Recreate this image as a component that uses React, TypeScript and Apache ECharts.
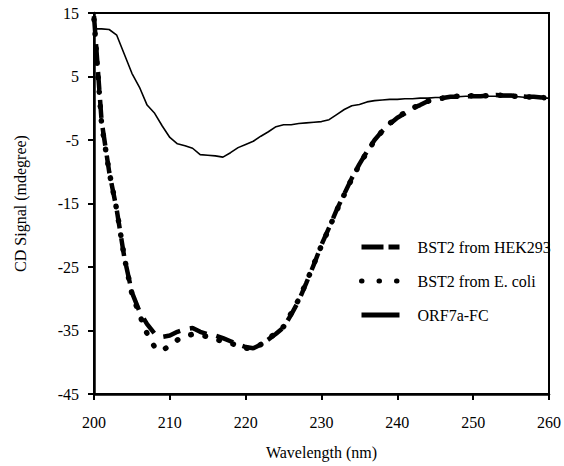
import React, { useEffect, useRef } from "react";
import * as echarts from "echarts";

const wavelengths = Array.from({ length: 61 }, (_, i) => 200 + i);

const hek293 = [
  14.5, -2, -10, -16, -23.5, -29, -32, -34, -35.5, -36,
  -35.8, -35.2, -34.8, -34.6, -35.2, -35.6, -35.8, -36.2, -36.7, -37.2,
  -37.6, -37.8, -37.2, -36.4, -35.5, -34.5, -32.5, -30.3, -27.5, -24.6,
  -21.5, -18.8, -16, -13.5, -11, -8.8, -6.8, -5, -3.6, -2.5,
  -1.5, -0.8, 0, 0.5, 1.1, 1.4, 1.6, 1.8, 1.8, 1.9,
  1.9, 1.9, 2.0, 2.1, 2.0, 2.0, 1.9, 1.8, 1.8, 1.7, 1.6,
];

const ecoli = [
  14, -2.5, -10, -16, -23.5, -29.2, -32.5, -35.5, -37.6, -38.2,
  -37.3, -36.5, -35.9, -35.6, -35.7, -36, -36.4, -36.7, -37, -37.4,
  -37.8, -37.8, -37.2, -36.3, -35.4, -34.4, -32.3, -30.1, -27.4, -24.5,
  -21.6, -18.9, -16.1, -13.6, -11.1, -8.9, -6.9, -5.1, -3.6, -2.4,
  -1.4, -0.7, 0, 0.6, 1.1, 1.5, 1.6, 1.8, 1.9, 1.9,
  2.0, 1.9, 2.0, 2.1, 2.0, 1.9, 1.9, 1.8, 1.7, 1.7, 1.6,
];

const orf7a = [
  12.5, 12.5, 12.4, 11.5, 8.5, 5.5, 3.3, 0.5, -0.8, -2.8,
  -4.6, -5.6, -5.9, -6.3, -7.3, -7.4, -7.5, -7.7, -7.0, -6.2,
  -5.7, -5.2, -4.4, -3.7, -2.9, -2.6, -2.6, -2.4, -2.3, -2.2,
  -2.1, -1.8, -1.0, -0.2, 0.4, 0.6, 1.0, 1.2, 1.3, 1.4,
  1.4, 1.5, 1.5, 1.6, 1.6, 1.7, 1.7, 1.8, 1.8, 1.9,
  1.9, 1.9, 1.9, 1.9, 1.8, 1.8, 1.8, 1.7, 1.7, 1.6, 1.6,
];

const yTicks = [-45, -35, -25, -15, -5, 5, 15];
const seriesNames = ["BST2 from HEK293", "BST2 from E. coli", "ORF7a-FC"];

const FONT = "Liberation Serif";

const hekLine = { color: "#000", width: 4.5, type: [18, 10], cap: "butt" };
const ecoliLine = { color: "#000", width: 5.5, type: [0.5, 14], cap: "round" };

export default function App() {
  const ref = useRef<HTMLDivElement>(null);
  useEffect(() => {
    if (!ref.current) return;
    const chart = echarts.init(ref.current, null, { renderer: "svg" });
    const pair = (arr: number[]) => wavelengths.map((w, i) => [w, arr[i]]);
    const txt = { fontFamily: FONT, fontSize: 16, color: "#000" };
    chart.setOption({
      animation: false,
      backgroundColor: "#fff",
      textStyle: { fontFamily: FONT, color: "#000" },
      grid: {
        left: 94,
        right: 14,
        top: 13,
        bottom: 72,
        show: true,
        borderColor: "#000",
        borderWidth: 2,
      },
      legend: {
        orient: "vertical",
        left: 359,
        top: 239,
        padding: 0,
        itemWidth: 38,
        itemHeight: 14,
        itemGap: 18,
        itemStyle: { opacity: 0 },
        textStyle: { ...txt, padding: [0, 0, 0, 13] },
        data: [
          { name: seriesNames[0], itemStyle: { opacity: 0 }, lineStyle: { width: 5, type: [22, 5], color: "#000" } },
          { name: seriesNames[1], itemStyle: { opacity: 0 }, lineStyle: { width: 5, type: [0.5, 17], cap: "round", color: "#000" } },
          { name: seriesNames[2], itemStyle: { opacity: 0 }, lineStyle: { width: 5, type: "solid", color: "#000" } },
        ],
      },
      xAxis: {
        type: "value",
        min: 200,
        max: 260,
        interval: 10,
        name: "Wavelength (nm)",
        nameLocation: "middle",
        nameGap: 50,
        nameTextStyle: txt,
        axisLine: { onZero: false, lineStyle: { color: "#000", width: 2.5 } },
        axisTick: { show: true, length: 6, lineStyle: { color: "#000", width: 2 } },
        axisLabel: { ...txt, margin: 20 },
        splitLine: { show: false },
      },
      yAxis: {
        type: "value",
        min: -45,
        max: 15,
        name: "CD Signal (mdegree)",
        nameLocation: "middle",
        nameGap: 66,
        nameTextStyle: txt,
        axisLine: { onZero: false, lineStyle: { color: "#000", width: 2.5 } },
        axisTick: {
          show: true,
          length: 6,
          customValues: yTicks,
          lineStyle: { color: "#000", width: 2 },
        },
        axisLabel: { ...txt, margin: 15, customValues: yTicks },
        splitLine: { show: false },
      },
      series: [
        {
          name: seriesNames[0],
          type: "line",
          symbol: "none",
          data: pair(hek293),
          lineStyle: hekLine,
          itemStyle: { color: "#000" },
        },
        {
          name: seriesNames[1],
          type: "line",
          symbol: "none",
          data: pair(ecoli),
          lineStyle: ecoliLine,
          itemStyle: { color: "#000" },
        },
        {
          name: seriesNames[2],
          type: "line",
          symbol: "none",
          data: pair(orf7a),
          lineStyle: { color: "#000", width: 1.6, type: "solid" },
          itemStyle: { color: "#000" },
        },
      ],
    });
    return () => chart.dispose();
  }, []);
  return (
    <div
      ref={ref}
      style={{ position: "fixed", left: 0, top: 0, width: 564, height: 466, background: "#fff" }}
    />
  );
}
